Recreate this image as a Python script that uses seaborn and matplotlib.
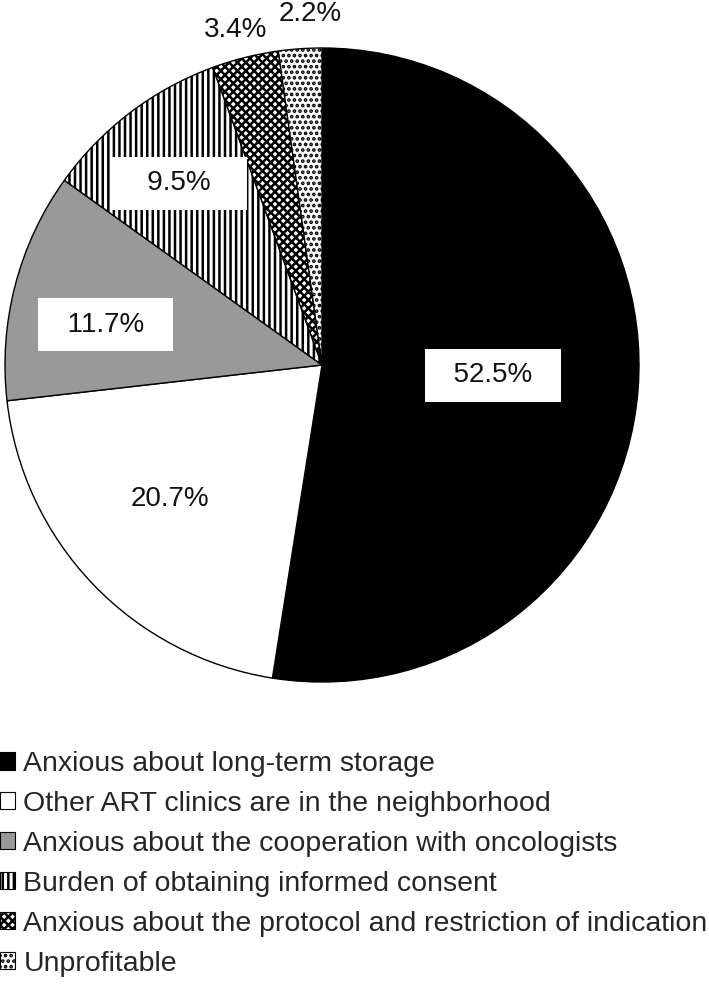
import numpy as np
import matplotlib
matplotlib.use("Agg")
import matplotlib.pyplot as plt
import seaborn as sns
from matplotlib.patches import Patch

sns.set_theme(style="white")
plt.rcParams['font.family'] = ['Liberation Sans', 'DejaVu Sans']
plt.rcParams['hatch.linewidth'] = 1.8

# data
reasons = [
    "Anxious about long-term storage",
    "Other ART clinics are in the neighborhood",
    "Anxious about the cooperation with oncologists",
    "Burden of obtaining informed consent",
    "Anxious about the protocol and restriction of indication",
    "Unprofitable",
]
shares = [52.5, 20.7, 11.7, 9.5, 3.4, 2.2]

# styling per slice
face_colors = ["black", "white", "#999999", "white", "white", "white"]
hatches = [None, None, None, "|||", "xxxx", "..."]
label_dist = [0.54, 0.64, 0.695, 0.73, 1.09, 1.108]
label_turn = [1.0, -2.5, 4.0, 1.0, 0.4, -2.0]   # small angular nudges (deg)
label_pad = [2, 0, 2, 3, 0, 0]                  # spaces inside white box (0 = no box)

fig = plt.figure(figsize=(7.09, 10.07), dpi=100)
W, H = 709, 1007
cx, cy, r = 322, 365, 317
ax = fig.add_axes([(cx - r) / W, (H - cy - r) / H, 2 * r / W, 2 * r / H])

wedges, _ = ax.pie(shares, colors=face_colors, startangle=90, counterclock=False,
                   radius=1, wedgeprops=dict(edgecolor="black", linewidth=1.0))
for w, h in zip(wedges, hatches):
    if h:
        w.set_hatch(h)
ax.set_xlim(-1, 1)
ax.set_ylim(-1, 1)
ax.set_aspect("equal")
ax.axis("off")

for w, val, d, turn, npad in zip(wedges, shares, label_dist, label_turn, label_pad):
    ang = np.deg2rad((w.theta1 + w.theta2) / 2 + turn)
    x, y = d * np.cos(ang), d * np.sin(ang)
    txt = f"{val:.1f}%"
    kw = {}
    if npad:
        txt = " " * npad + txt + " " * npad
        kw["bbox"] = dict(boxstyle="square,pad=0.48", facecolor="white", edgecolor="none")
    ax.text(x, y, txt, ha="center", va="center", fontsize=20, color="#111111",
            clip_on=False, **kw)

handles = [Patch(facecolor=fc, edgecolor="black", hatch=h, linewidth=0.8)
           for fc, h in zip(face_colors, hatches)]
fig.legend(handles, reasons, loc="upper left", bbox_to_anchor=(0.0, 1 - 751 / H),
           frameon=False, fontsize=20.5, handlelength=0.52, handleheight=0.55,
           handletextpad=0.3, labelspacing=0.49, borderpad=0, borderaxespad=0)

fig.savefig("out.png", dpi=100)
